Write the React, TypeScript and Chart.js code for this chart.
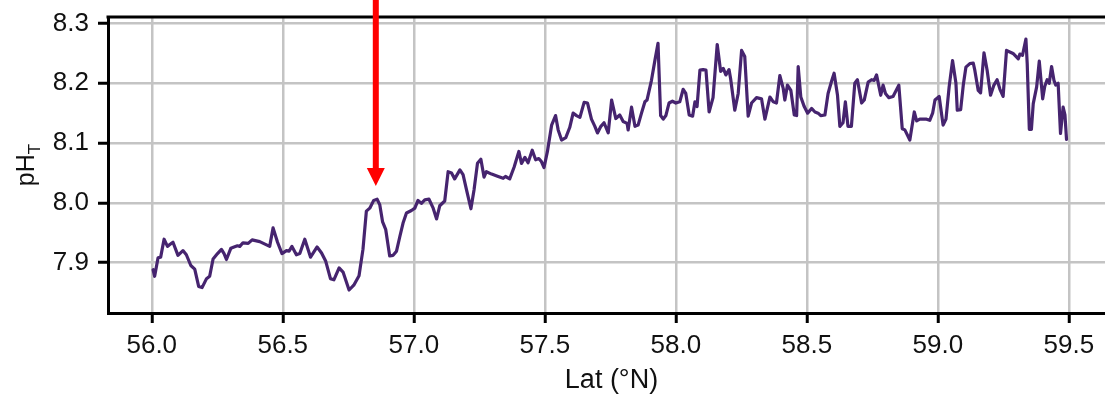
import { useEffect, useRef } from 'react';
import { Chart, registerables } from 'chart.js';

Chart.register(...registerables);

// Latitude (°N) along the transect
const latitude: number[] = [
  56.005, 56.011, 56.024, 56.034, 56.047, 56.060, 56.069, 56.081, 56.100, 56.119,
  56.132, 56.149, 56.164, 56.179, 56.192, 56.209, 56.221, 56.234, 56.251, 56.266,
  56.276, 56.285, 56.302, 56.314, 56.327, 56.336, 56.348, 56.368, 56.383, 56.412,
  56.450, 56.463, 56.480, 56.497, 56.514, 56.524, 56.535, 56.552, 56.565, 56.584,
  56.606, 56.631, 56.648, 56.664, 56.682, 56.695, 56.715, 56.730, 56.753, 56.771,
  56.791, 56.806, 56.819, 56.832, 56.847, 56.860, 56.870, 56.881, 56.893, 56.908,
  56.921, 56.934, 56.947, 56.959, 56.972, 56.991, 57.004, 57.016, 57.029, 57.042,
  57.058, 57.074, 57.087, 57.099, 57.118, 57.131, 57.144, 57.156, 57.176, 57.188,
  57.201, 57.218, 57.230, 57.243, 57.256, 57.268, 57.277, 57.297, 57.322, 57.341,
  57.350, 57.366, 57.383, 57.401, 57.411, 57.424, 57.436, 57.452, 57.465, 57.477,
  57.487, 57.497, 57.510, 57.526, 57.541, 57.551, 57.564, 57.580, 57.595, 57.608,
  57.621, 57.634, 57.650, 57.663, 57.678, 57.691, 57.701, 57.714, 57.726, 57.742,
  57.755, 57.771, 57.786, 57.799, 57.814, 57.818, 57.831, 57.844, 57.856, 57.869,
  57.882, 57.890, 57.907, 57.920, 57.932, 57.942, 57.952, 57.962, 57.974, 57.987,
  58.000, 58.015, 58.028, 58.038, 58.051, 58.064, 58.073, 58.081, 58.092, 58.104,
  58.115, 58.127, 58.142, 58.158, 58.171, 58.181, 58.191, 58.203, 58.209, 58.225,
  58.238, 58.251, 58.263, 58.276, 58.289, 58.308, 58.327, 58.340, 58.359, 58.372,
  58.384, 58.397, 58.410, 58.416, 58.426, 58.439, 58.452, 58.461, 58.467, 58.477,
  58.490, 58.503, 58.518, 58.531, 58.543, 58.553, 58.569, 58.581, 58.594, 58.604,
  58.617, 58.626, 58.638, 58.647, 58.657, 58.670, 58.683, 58.693, 58.709, 58.719,
  58.734, 58.747, 58.757, 58.766, 58.782, 58.791, 58.800, 58.813, 58.829, 58.851,
  58.864, 58.874, 58.893, 58.910, 58.919, 58.931, 58.948, 58.957, 58.969, 58.980,
  58.989, 59.005, 59.020, 59.031, 59.043, 59.056, 59.069, 59.074, 59.087, 59.097,
  59.107, 59.122, 59.135, 59.141, 59.154, 59.163, 59.176, 59.188, 59.201, 59.214,
  59.226, 59.237, 59.249, 59.262, 59.287, 59.307, 59.313, 59.323, 59.336, 59.341,
  59.349, 59.357, 59.364, 59.377, 59.387, 59.400, 59.408, 59.417, 59.425, 59.434,
  59.443, 59.450, 59.459, 59.468, 59.478, 59.485, 59.491,
];

// pH on the total scale
const phT: number[] = [
  7.888, 7.877, 7.908, 7.909, 7.939, 7.927, 7.930, 7.934, 7.912, 7.920,
  7.913, 7.895, 7.889, 7.860, 7.858, 7.873, 7.877, 7.906, 7.915, 7.922,
  7.915, 7.905, 7.924, 7.926, 7.928, 7.927, 7.933, 7.932, 7.938, 7.935,
  7.927, 7.958, 7.934, 7.915, 7.920, 7.919, 7.927, 7.913, 7.915, 7.939,
  7.909, 7.926, 7.916, 7.902, 7.873, 7.871, 7.891, 7.884, 7.854, 7.862,
  7.878, 7.922, 7.986, 7.991, 8.004, 8.006, 7.997, 7.968, 7.955, 7.911,
  7.912, 7.919, 7.944, 7.966, 7.983, 7.987, 7.991, 8.004, 7.999, 8.005,
  8.006, 7.991, 7.973, 7.995, 8.003, 8.052, 8.050, 8.040, 8.055, 8.047,
  8.022, 7.990, 8.022, 8.066, 8.073, 8.043, 8.052, 8.048, 8.044, 8.041,
  8.044, 8.040, 8.060, 8.086, 8.066, 8.076, 8.067, 8.088, 8.072, 8.074,
  8.069, 8.059, 8.086, 8.130, 8.146, 8.122, 8.105, 8.109, 8.126, 8.150,
  8.146, 8.143, 8.168, 8.167, 8.140, 8.128, 8.117, 8.128, 8.134, 8.117,
  8.172, 8.141, 8.147, 8.136, 8.133, 8.122, 8.160, 8.128, 8.130, 8.150,
  8.169, 8.172, 8.205, 8.238, 8.267, 8.146, 8.140, 8.146, 8.167, 8.170,
  8.167, 8.169, 8.190, 8.183, 8.147, 8.145, 8.169, 8.161, 8.222, 8.223,
  8.222, 8.152, 8.176, 8.265, 8.220, 8.225, 8.214, 8.223, 8.208, 8.155,
  8.183, 8.255, 8.245, 8.145, 8.167, 8.176, 8.174, 8.140, 8.177, 8.169,
  8.167, 8.213, 8.191, 8.172, 8.197, 8.188, 8.147, 8.146, 8.228, 8.177,
  8.161, 8.150, 8.158, 8.152, 8.150, 8.146, 8.147, 8.183, 8.203, 8.217,
  8.180, 8.128, 8.134, 8.169, 8.128, 8.128, 8.200, 8.206, 8.167, 8.172,
  8.202, 8.206, 8.205, 8.214, 8.180, 8.197, 8.183, 8.176, 8.178, 8.197,
  8.124, 8.122, 8.105, 8.152, 8.137, 8.140, 8.140, 8.140, 8.138, 8.150,
  8.172, 8.178, 8.130, 8.140, 8.194, 8.238, 8.200, 8.155, 8.156, 8.197,
  8.227, 8.233, 8.234, 8.222, 8.188, 8.184, 8.251, 8.222, 8.180, 8.197,
  8.206, 8.190, 8.178, 8.255, 8.250, 8.241, 8.249, 8.247, 8.274, 8.233,
  8.123, 8.123, 8.166, 8.194, 8.237, 8.174, 8.195, 8.206, 8.200, 8.228,
  8.205, 8.197, 8.200, 8.116, 8.160, 8.147, 8.106,
];

const xTickValues: number[] = [56.0, 56.5, 57.0, 57.5, 58.0, 58.5, 59.0, 59.5];
const yTickValues: number[] = [7.9, 8.0, 8.1, 8.2, 8.3];

const X_MIN = 55.833;
const X_MAX = 59.676;
const Y_MIN = 7.8155;
const Y_MAX = 8.311;

// arrow annotation (points at the local maximum)
const ARROW_LAT = 56.855;
const ARROW_TIP_PH = 8.028;

const X_TITLE = 'Lat (°N)';
const Y_TITLE_MAIN = 'pH';
const Y_TITLE_SUB = 'T';

const FONT = '"Liberation Sans", Arial, sans-serif';
const TEXT_COLOR = '#111111';

const decorPlugin = {
  id: 'decor',
  afterDatasetsDraw(chart: any) {
    const { ctx, chartArea, scales } = chart;
    ctx.save();
    // top frame line
    ctx.strokeStyle = '#000';
    ctx.lineWidth = 3;
    ctx.beginPath();
    ctx.moveTo(chartArea.left - 1.5, chartArea.top);
    ctx.lineTo(chartArea.right, chartArea.top);
    ctx.stroke();

    // red arrow
    const ax = scales.x.getPixelForValue(ARROW_LAT);
    const tipY = scales.y.getPixelForValue(ARROW_TIP_PH);
    const headH = 18;
    const headHalf = 9;
    ctx.fillStyle = '#ff0000';
    ctx.fillRect(ax - 3, 0, 6, tipY - headH + 1);
    ctx.beginPath();
    ctx.moveTo(ax - headHalf, tipY - headH);
    ctx.lineTo(ax + headHalf, tipY - headH);
    ctx.lineTo(ax, tipY);
    ctx.closePath();
    ctx.fill();

    // axis titles
    ctx.fillStyle = TEXT_COLOR;
    ctx.textBaseline = 'middle';
    ctx.textAlign = 'center';
    ctx.font = `27px ${FONT}`;
    ctx.fillText(X_TITLE, (chartArea.left + chartArea.right) / 2, 381);

    ctx.translate(26, (chartArea.top + chartArea.bottom) / 2);
    ctx.rotate(-Math.PI / 2);
    ctx.font = `25px ${FONT}`;
    const wMain = ctx.measureText(Y_TITLE_MAIN).width;
    ctx.font = `17px ${FONT}`;
    const wSub = ctx.measureText(Y_TITLE_SUB).width;
    const start = -(wMain + wSub) / 2;
    ctx.textAlign = 'left';
    ctx.textBaseline = 'alphabetic';
    ctx.font = `25px ${FONT}`;
    ctx.fillText(Y_TITLE_MAIN, start, 8);
    ctx.font = `17px ${FONT}`;
    ctx.fillText(Y_TITLE_SUB, start + wMain, 14);
    ctx.restore();
  },
};

export default function App() {
  const canvasRef = useRef<HTMLCanvasElement | null>(null);

  useEffect(() => {
    if (!canvasRef.current) return;
    const points = latitude.map((lat, i) => ({ x: lat, y: phT[i] }));
    const chart = new Chart(canvasRef.current, {
      type: 'line',
      data: {
        datasets: [
          {
            data: points,
            borderColor: '#46246f',
            borderWidth: 3.2,
            borderJoinStyle: 'round',
            borderCapStyle: 'round',
            pointRadius: 0,
            tension: 0,
            fill: false,
          },
        ],
      },
      options: {
        animation: false,
        responsive: false,
        maintainAspectRatio: false,
        layout: { padding: { top: 17, right: 0, left: 0, bottom: 0 } },
        plugins: {
          legend: { display: false },
          tooltip: { enabled: false },
          title: { display: false },
        },
        scales: {
          x: {
            type: 'linear',
            min: X_MIN,
            max: X_MAX,
            afterBuildTicks: (scale: any) => {
              scale.ticks = xTickValues.map((v) => ({ value: v }));
            },
            afterFit: (scale: any) => {
              scale.height = 85;
              scale.paddingLeft = 0;
              scale.paddingRight = 0;
            },
            ticks: {
              callback: (v: any) => Number(v).toFixed(1),
              font: { family: FONT, size: 26 },
              color: TEXT_COLOR,
              padding: 7,
              maxRotation: 0,
              autoSkip: false,
            },
            grid: {
              color: '#c4c4c4',
              lineWidth: 2.5,
              tickColor: '#000',
              tickWidth: 3,
              tickLength: 10,
              drawTicks: true,
            },
            border: { display: true, color: '#000', width: 3 },
          },
          y: {
            type: 'linear',
            min: Y_MIN,
            max: Y_MAX,
            afterBuildTicks: (scale: any) => {
              scale.ticks = yTickValues.map((v) => ({ value: v }));
            },
            afterFit: (scale: any) => {
              scale.width = 108;
              scale.paddingTop = 0;
              scale.paddingBottom = 0;
            },
            ticks: {
              callback: (v: any) => Number(v).toFixed(1),
              font: { family: FONT, size: 26 },
              color: TEXT_COLOR,
              padding: 9,
              autoSkip: false,
            },
            grid: {
              color: '#c4c4c4',
              lineWidth: 2.5,
              tickColor: '#000',
              tickWidth: 3,
              tickLength: 10,
              drawTicks: true,
            },
            border: { display: true, color: '#000', width: 3 },
          },
        },
      },
      plugins: [decorPlugin],
    });
    return () => chart.destroy();
  }, []);

  return (
    <div
      style={{
        position: 'fixed',
        left: 0,
        top: 0,
        width: 1105,
        height: 398,
        overflow: 'hidden',
        background: '#fff',
      }}
    >
      <canvas
        ref={canvasRef}
        width={1115}
        height={398}
        style={{ display: 'block', width: 1115, height: 398 }}
      />
    </div>
  );
}
